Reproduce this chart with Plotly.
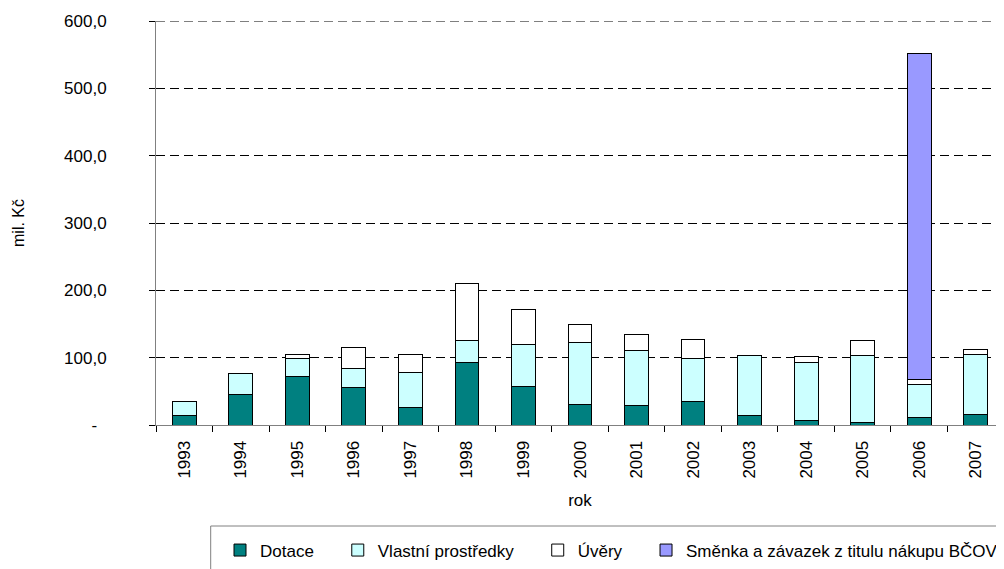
import plotly.graph_objects as go

years = [str(y) for y in range(1993, 2008)]
dotace = [13.8, 46.0, 71.8, 55.0, 26.7, 93.0, 57.0, 31.0, 29.0, 35.0, 14.5, 7.0, 3.0, 10.5, 15.0]
vlastni = [21.4, 30.2, 26.7, 28.2, 51.0, 31.8, 62.3, 92.0, 81.0, 64.5, 88.0, 86.0, 99.5, 49.0, 90.0]
uvery = [0.0, 0.0, 6.5, 32.2, 27.3, 84.7, 52.7, 26.3, 24.5, 27.5, 0.0, 8.0, 22.5, 7.5, 7.5]
smenka = [0.0] * 13 + [484.0, 0.0]

y_tickvals = [0, 100, 200, 300, 400, 500, 600]
y_ticktext = ["-\u00a0\u00a0", "100,0", "200,0", "300,0", "400,0", "500,0", "600,0"]

NB = "\u00a0"
series = [
    ("Dotace", dotace, "#008080", 4),
    ("Vlastní prostředky", vlastni, "#CCFFFF", 4),
    ("Úvěry", uvery, "#FFFFFF", 4),
    ("Směnka a závazek z titulu nákupu BČOV", smenka, "#9999FF", 0),
]

FONT = "Liberation Sans, Arial, sans-serif"

# figure is placed 8px from the page corner by the browser's body margin
W, H = 996, 561
ML, MR, MT, MB = 148, 0, 13, 144
PW, PH = W - ML - MR, H - MT - MB

fig = go.Figure()
for name, vals, color, pad in series:
    fig.add_trace(go.Bar(
        x=years, y=vals, name=name + NB * pad,
        marker=dict(color=color, line=dict(color="#000000", width=1)),
    ))

def px_x(fx):
    return (fx - ML) / PW

def px_y(fy):
    return (MT + PH - fy) / PH

shapes = [
    # top gridline at 600 (plotly drops grid lines lying on the range edge)
    dict(type="line", xref="paper", yref="y", x0=0, x1=1, y0=600, y1=600,
         line=dict(color="#000000", width=1, dash="9px,5px"), layer="below"),
    # legend frame
    dict(type="rect", xref="paper", yref="paper",
         x0=px_x(202.7), x1=px_x(1010), y0=px_y(518), y1=px_y(600),
         line=dict(color="#808080", width=1), fillcolor="rgba(0,0,0,0)"),
]

fig.update_layout(
    barmode="stack",
    bargap=0.58,
    width=W, height=H,
    margin=dict(l=ML, r=MR, t=MT, b=MB, pad=0),
    paper_bgcolor="white", plot_bgcolor="white",
    font=dict(family=FONT, size=17, color="black"),
    showlegend=True,
    shapes=shapes,
    legend=dict(
        orientation="h",
        xref="container", yref="container",
        x=212 / W, y=1 - 524.5 / H,
        xanchor="left", yanchor="top",
        borderwidth=0, bgcolor="rgba(0,0,0,0)",
        font=dict(family=FONT, size=17),
        traceorder="normal",
    ),
    xaxis=dict(
        type="category",
        tickangle=-90,
        ticks="outside", ticklen=6, tickcolor="#000000",
        tickson="boundaries",
        showline=True, linecolor="#808080", linewidth=1,
        showgrid=False,
        tickfont=dict(size=17),
        ticklabelstandoff=8,
        title=dict(text="rok", font=dict(size=17), standoff=16),
    ),
    yaxis=dict(
        range=[0, 600],
        tickvals=y_tickvals, ticktext=y_ticktext,
        ticks="outside", ticklen=6, tickcolor="#000000",
        showline=True, linecolor="#808080", linewidth=1,
        showgrid=True, gridcolor="#000000", gridwidth=1, griddash="9px,5px",
        zeroline=False,
        tickfont=dict(size=17),
        ticklabelstandoff=39,
        title=dict(text="mil. Kč", font=dict(size=16), standoff=35),
    ),
)

fig.write_html("out.html")
